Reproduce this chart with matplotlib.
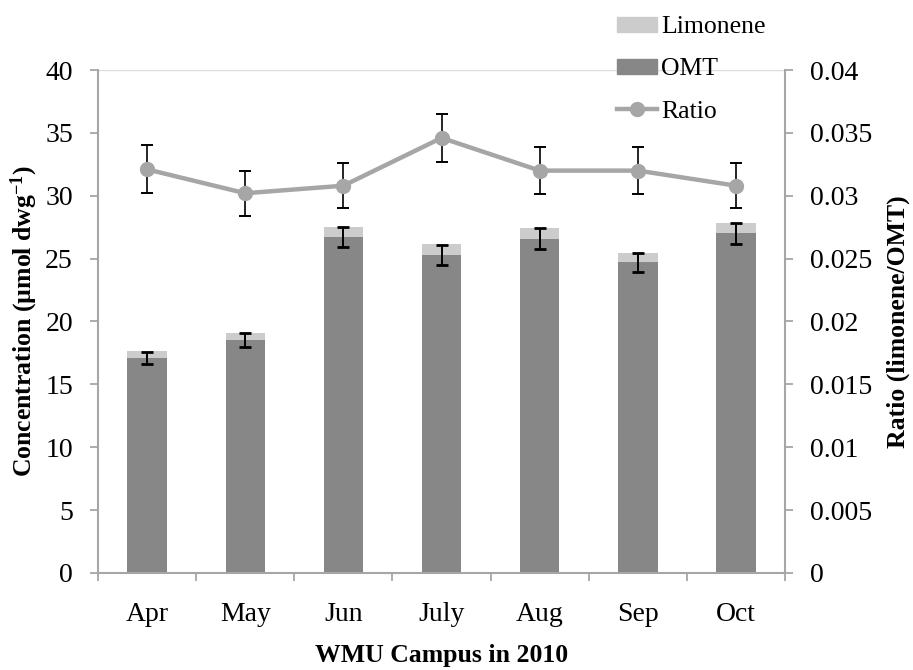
import numpy as np
import matplotlib.pyplot as plt
from matplotlib.patches import Patch
from matplotlib.lines import Line2D

plt.rcParams['font.family'] = ['Liberation Serif', 'DejaVu Serif']
plt.rcParams['mathtext.fontset'] = 'custom'
plt.rcParams['mathtext.rm'] = 'Liberation Serif'
plt.rcParams['mathtext.bf'] = 'Liberation Serif:bold'
plt.rcParams['mathtext.default'] = 'bf'

months = ["Apr", "May", "Jun", "July", "Aug", "Sep", "Oct"]
omt = [17.1, 18.5, 26.7, 25.3, 26.6, 24.7, 27.0]
omt_err = [0.5, 0.55, 0.8, 0.8, 0.85, 0.77, 0.83]
limonene = [0.55, 0.55, 0.85, 0.85, 0.85, 0.75, 0.85]
ratio = [0.0321, 0.0302, 0.0308, 0.0346, 0.0320, 0.0320, 0.0308]
ratio_err = [0.0019, 0.0018, 0.0018, 0.0019, 0.0019, 0.0019, 0.0018]

OMT_COLOR = "#878787"
LIM_COLOR = "#cccccc"
LINE_COLOR = "#a6a6a6"
AXIS_COLOR = "#a6a6a6"

fig = plt.figure(figsize=(9.13, 6.7), dpi=100)
ax = fig.add_axes([0.1073, 0.1448, 0.7527, 0.7507])
ax2 = ax.twinx()

x = np.arange(len(months))
w = 0.40
ax.bar(x, omt, w, color=OMT_COLOR, zorder=2)
ax.bar(x, limonene, w, bottom=omt, color=LIM_COLOR, zorder=2)
ax.errorbar(x, omt, yerr=omt_err, fmt="none", ecolor="black",
            elinewidth=1.4, capsize=4, capthick=2, zorder=3)

ax2.plot(x, ratio, color=LINE_COLOR, lw=3.2, marker="o", ms=10,
         markerfacecolor=LINE_COLOR, markeredgecolor=LINE_COLOR, zorder=3)
ax2.errorbar(x, ratio, yerr=ratio_err, fmt="none", ecolor="black",
             elinewidth=1.2, capsize=4, capthick=1.4, zorder=2)

ax.set_xlim(-0.5, 6.5)
ax.set_ylim(0, 40)
ax2.set_ylim(0, 0.04)
ax.set_yticks(range(0, 41, 5))
ax2.set_yticks(np.arange(0, 0.0401, 0.005))
ax2.set_yticklabels(["0", "0.005", "0.01", "0.015", "0.02", "0.025",
                     "0.03", "0.035", "0.04"])

# category ticks sit between the bars
ax.set_xticks(x)
ax.set_xticklabels(months)
ax.set_xticks(np.arange(-0.5, 7, 1), minor=True)
ax.tick_params(axis="x", which="major", length=0, pad=21, labelsize=20)
ax.tick_params(axis="x", which="minor", length=6, width=1.3, color=AXIS_COLOR)
ax.tick_params(axis="y", length=6, width=1.3, color=AXIS_COLOR, labelsize=20, pad=12)
ax2.tick_params(axis="y", length=6, width=1.3, color=AXIS_COLOR, labelsize=20, pad=12)

ax.axhline(40, color="#dddddd", lw=1, zorder=1)

for a in (ax, ax2):
    for s in a.spines.values():
        s.set_visible(False)
ax.spines["left"].set_visible(True)
ax.spines["bottom"].set_visible(True)
ax2.spines["right"].set_visible(True)
for s in (ax.spines["left"], ax.spines["bottom"], ax2.spines["right"]):
    s.set_color(AXIS_COLOR)
    s.set_linewidth(1.5)

ax.set_xlabel("WMU Campus in 2010", fontsize=18.5, fontweight="bold", labelpad=12)
ax.set_ylabel(r"Concentration (µmol dwg$^{-1}$)", fontsize=18.5,
              fontweight="bold", labelpad=4)
ax2.set_ylabel("Ratio (limonene/OMT)", fontsize=18.5, fontweight="bold", labelpad=10)

handles = [Patch(color=LIM_COLOR), Patch(color=OMT_COLOR),
           Line2D([], [], color=LINE_COLOR, lw=3.2, marker="o", ms=10)]
fig.legend(handles, ["Limonene", "OMT", "Ratio"], loc="upper left",
           bbox_to_anchor=(0.651, 1.01), frameon=False, fontsize=18.5,
           handlelength=1.55, handleheight=0.5, handletextpad=0.15,
           labelspacing=0.78)

fig.savefig("out.png", dpi=100)
